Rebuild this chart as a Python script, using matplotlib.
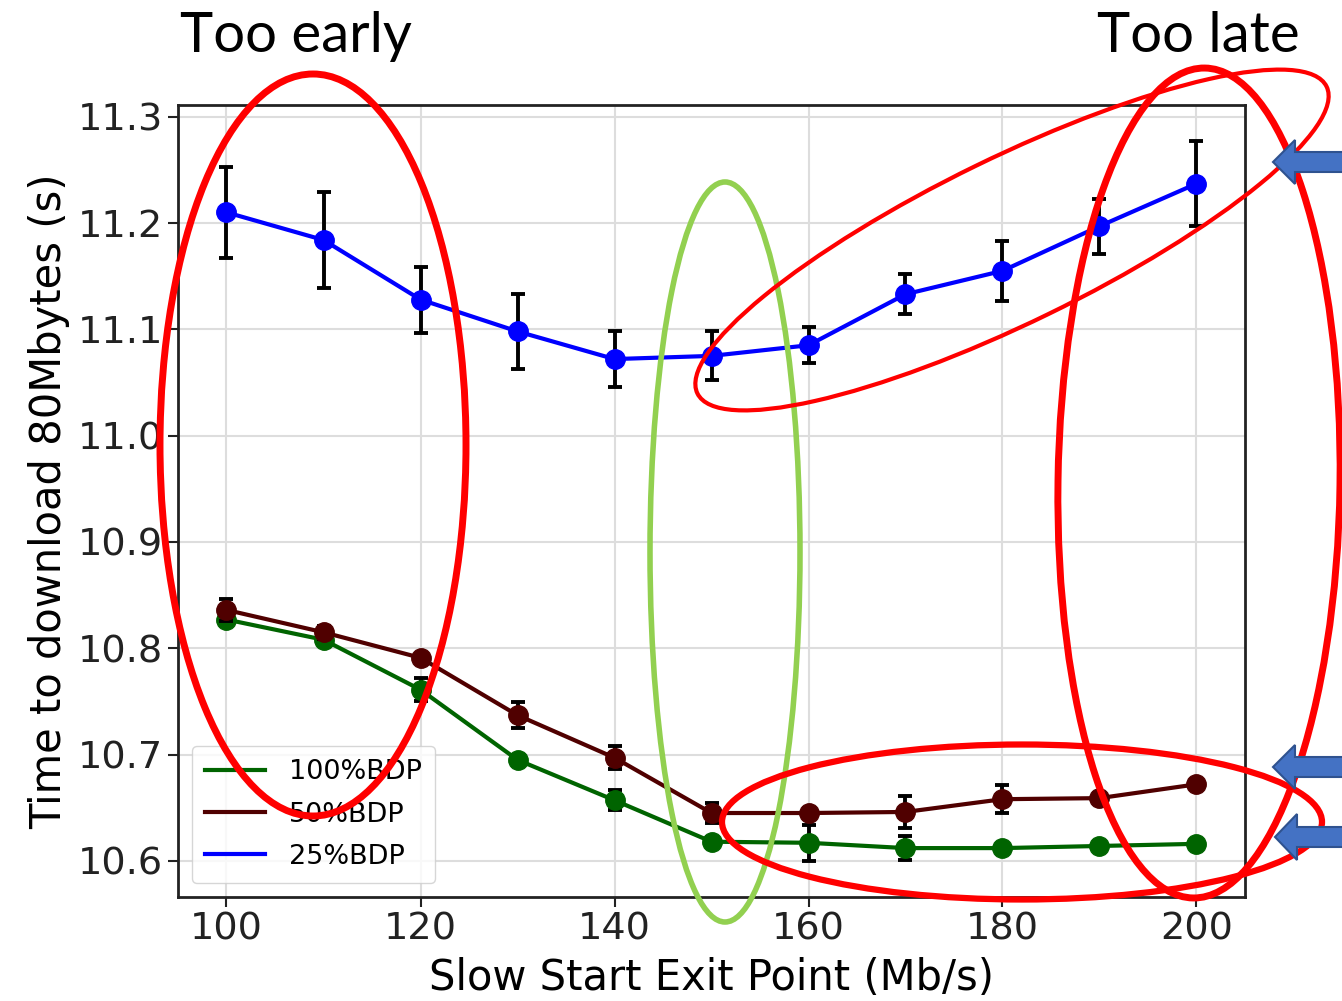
import matplotlib
matplotlib.use("Agg")
import matplotlib.pyplot as plt
from matplotlib.patches import Ellipse, Polygon
from matplotlib.lines import Line2D

# ---- data ----
exit_points = [100, 110, 120, 130, 140, 150, 160, 170, 180, 190, 200]

bdp25 = [11.210, 11.184, 11.128, 11.098, 11.072, 11.075, 11.085, 11.133, 11.155, 11.197, 11.237]
bdp25_err = [0.043, 0.045, 0.031, 0.035, 0.026, 0.023, 0.017, 0.019, 0.028, 0.026, 0.040]

bdp50 = [10.836, 10.815, 10.791, 10.737, 10.697, 10.645, 10.645, 10.646, 10.658, 10.659, 10.672]
bdp50_err = [0.010, 0.006, 0.004, 0.012, 0.011, 0.0095, 0.005, 0.015, 0.013, 0.005, 0.004]

bdp100 = [10.827, 10.808, 10.761, 10.695, 10.657, 10.618, 10.617, 10.612, 10.612, 10.614, 10.616]
bdp100_err = [0.005, 0.005, 0.011, 0.005, 0.0095, 0.004, 0.017, 0.011, 0.004, 0.004, 0.004]

series_labels = ["100%BDP", "50%BDP", "25%BDP"]
series_colors = ["#006400", "#500000", "#0000ff"]
yticks = [10.6, 10.7, 10.8, 10.9, 11.0, 11.1, 11.2, 11.3]
xticks = [100, 120, 140, 160, 180, 200]

# ---- figure ----
W, H = 1342, 1001
fig = plt.figure(figsize=(W / 100, H / 100), dpi=100)
ax = fig.add_axes([178 / W, 1 - 897 / H, (1245 - 178) / W, (897 - 105) / H])

z = 2
for vals, errs, col in zip([bdp100, bdp50, bdp25],
                           [bdp100_err, bdp50_err, bdp25_err], series_colors):
    ax.errorbar(exit_points, vals, yerr=errs, fmt="none", ecolor="black",
                elinewidth=2.8, capsize=4.7, capthick=2.8, zorder=z)
    ax.plot(exit_points, vals, color=col, lw=3, marker="o", ms=14, zorder=z + 0.5)
    z += 1

ax.set_xlim(95, 205)
ax.set_ylim(10.566, 11.311)
ax.set_xticks(xticks)
ax.set_yticks(yticks)
ax.set_yticklabels([f"{v:.1f}" for v in yticks])
ax.tick_params(labelsize=27.5, width=1.5, length=7, colors="#222222")
ax.grid(True, color="#dddddd", lw=1.5)
for s in ax.spines.values():
    s.set_linewidth(2)
    s.set_color("#222222")
ax.set_xlabel("Slow Start Exit Point (Mb/s)", fontsize=30, labelpad=7)
ax.set_ylabel("Time to download 80Mbytes (s)", fontsize=30, labelpad=6)

handles = [Line2D([], [], color=c, lw=3) for c in series_colors]
leg = ax.legend(handles, series_labels, loc="lower left", fontsize=19.5,
                framealpha=0.8, borderpad=0.5, handlelength=2.2, handletextpad=0.9,
                labelspacing=0.6, bbox_to_anchor=(0.0, 0.0))
leg.set_zorder(10)

# ---- annotation overlay in pixel coordinates ----
ov = fig.add_axes([0, 0, 1, 1], zorder=10)
ov.set_xlim(0, W)
ov.set_ylim(H, 0)
ov.axis("off")
ov.patch.set_alpha(0)

red = "#ff0000"
ov.add_patch(Ellipse((313, 445), 306, 742, fill=False, ec=red, lw=5))
ov.add_patch(Ellipse((725, 552), 150, 740, fill=False, ec="#92d050", lw=4))
ov.add_patch(Ellipse((1012, 240), 700, 165, angle=-26, fill=False, ec=red, lw=3))
ov.add_patch(Ellipse((1199, 483), 282, 830, angle=0.8, fill=False, ec=red, lw=5))
ov.add_patch(Ellipse((1022, 822), 600, 155, fill=False, ec=red, lw=4.5))

def arrow(tip_x, cy, body_h, head_h, head_len):
    pts = [(tip_x, cy), (tip_x + head_len, cy - head_h / 2),
           (tip_x + head_len, cy - body_h / 2), (W + 20, cy - body_h / 2),
           (W + 20, cy + body_h / 2), (tip_x + head_len, cy + body_h / 2),
           (tip_x + head_len, cy + head_h / 2)]
    ov.add_patch(Polygon(pts, closed=True, fc="#4472c4", ec="#2f528f", lw=1.5,
                         zorder=1))

arrow(1273, 162, 20, 44, 22)
arrow(1273, 767, 20, 44, 22)
arrow(1275, 837, 20, 46, 22)

ov.text(180, 52, "Too early", fontsize=40.5, family="Lato", ha="left", va="baseline")
ov.text(1097, 52, "Too late", fontsize=40.5, family="Lato", ha="left", va="baseline")

fig.savefig("out.png", dpi=100)
